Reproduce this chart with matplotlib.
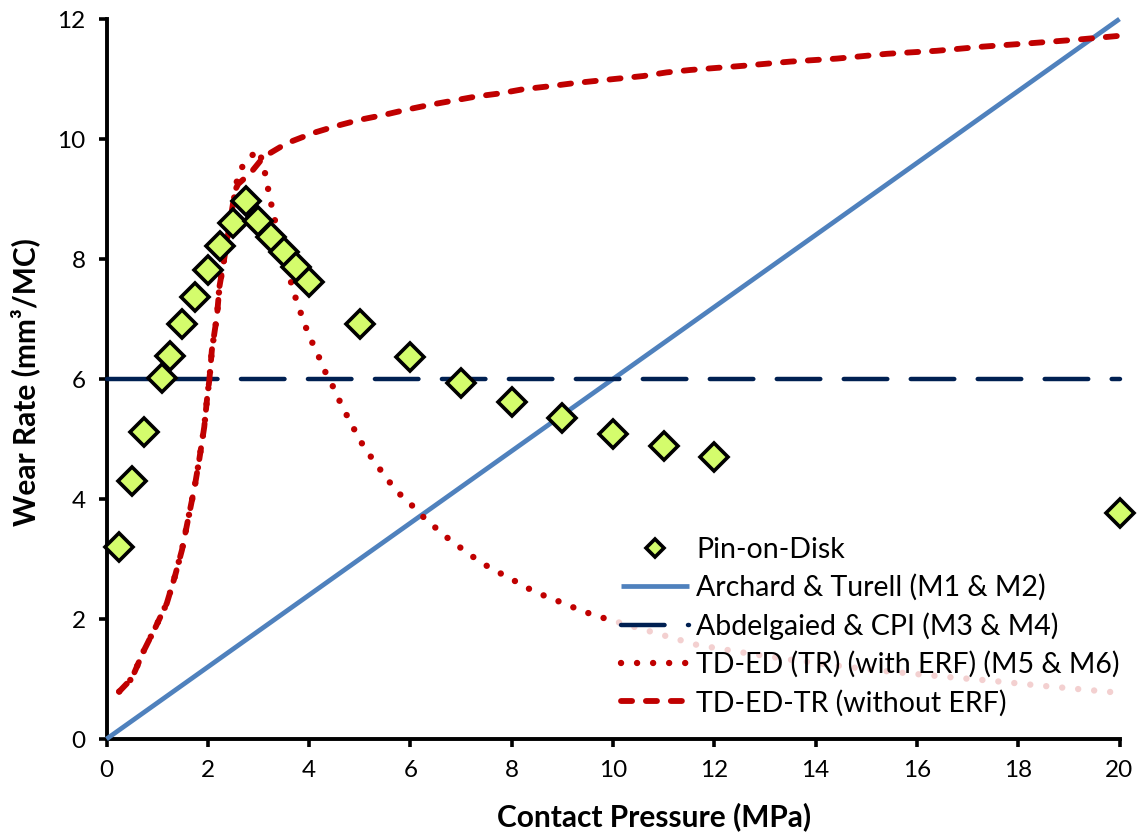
import matplotlib
matplotlib.use("Agg")
import matplotlib.pyplot as plt

plt.rcParams['font.family'] = ['Lato', 'DejaVu Sans']

# Pin-on-Disk measurements
pressure_pod = [0.25, 0.5, 0.75, 1.1, 1.25, 1.5, 1.75, 2.0, 2.25, 2.5, 2.75, 3.0,
                3.25, 3.5, 3.75, 4.0, 5, 6, 7, 8, 9, 10, 11, 12, 20]
wear_pod = [3.2, 4.3, 5.12, 6.02, 6.39, 6.91, 7.37, 7.82, 8.22, 8.6, 8.96, 8.64,
            8.36, 8.11, 7.86, 7.61, 6.91, 6.37, 5.93, 5.62, 5.35, 5.08, 4.88, 4.7, 3.77]

# Archard & Turell model
pressure_archard = [0, 20]
wear_archard = [0, 12]

# Abdelgaied & CPI model
pressure_cpi = [0, 20]
wear_cpi = [6, 6]

# TD-ED (TR) with ERF
pressure_erf = [0.25, 0.5, 0.73, 0.96, 1.19, 1.35, 1.49, 1.62, 1.74, 1.83, 1.93, 1.99,
                2.03, 2.08, 2.14, 2.18, 2.23, 2.31, 2.6, 2.77, 3.0, 3.1, 3.16, 3.23,
                3.29, 3.69, 3.8, 3.9, 4.02, 4.16, 4.28, 4.43, 4.57, 4.71, 4.86, 5.01,
                5.18, 5.37, 5.57, 5.78, 6.0, 6.23, 6.47, 6.72, 6.97, 7.23, 7.5, 7.78,
                8.07, 8.35, 8.64, 8.94, 9.23, 9.54, 9.84, 11.03, 11.65, 12.57, 13.43,
                14.35, 15.27, 16.52, 17.48, 18.43, 19.61, 20]
wear_erf = [0.79, 1.01, 1.46, 1.85, 2.26, 2.71, 3.15, 3.7, 4.2, 4.65, 5.2, 5.71,
            5.98, 6.48, 6.82, 7.04, 7.54, 7.93, 9.43, 9.65, 9.82, 9.57, 9.29, 9.01,
            8.76, 7.46, 7.19, 6.94, 6.68, 6.44, 6.18, 5.95, 5.69, 5.45, 5.21, 4.97,
            4.75, 4.53, 4.3, 4.09, 3.92, 3.72, 3.54, 3.36, 3.2, 3.04, 2.89, 2.76,
            2.63, 2.5, 2.39, 2.29, 2.19, 2.09, 2.01, 1.72, 1.57, 1.44, 1.33,
            1.23, 1.14, 1.04, 0.97, 0.89, 0.80, 0.77]

# TD-ED-TR without ERF
pressure_noerf = [0.25, 0.5, 0.73, 0.96, 1.19, 1.35, 1.49, 1.62, 1.74, 1.83, 1.93, 1.99,
                  2.03, 2.08, 2.14, 2.18, 2.23, 2.31, 2.54, 2.6, 2.84, 3.1, 3.56, 4.08,
                  4.55, 5.0, 5.47, 5.93, 6.39, 6.85, 7.31, 7.77, 8.23, 8.76, 9.22, 9.68,
                  10.14, 10.6, 11.06, 11.52, 12.57, 13.5, 14.42, 15.41, 16.39, 17.31,
                  18.3, 19.22, 20]
wear_noerf = [0.79, 1.01, 1.46, 1.85, 2.26, 2.71, 3.15, 3.7, 4.2, 4.65, 5.2, 5.71,
              5.98, 6.48, 6.82, 7.04, 7.54, 7.93, 9.15, 9.25, 9.43, 9.7, 9.93, 10.1,
              10.22, 10.32, 10.4, 10.49, 10.57, 10.64, 10.71, 10.76, 10.83, 10.88, 10.93,
              10.97, 11.01, 11.05, 11.11, 11.15, 11.22, 11.29, 11.34, 11.42, 11.47, 11.54,
              11.6, 11.66, 11.72]

x_ticks = [0, 2, 4, 6, 8, 10, 12, 14, 16, 18, 20]
y_ticks = [0, 2, 4, 6, 8, 10, 12]

labels = ["Pin-on-Disk", "Archard & Turell (M1 & M2)", "Abdelgaied & CPI (M3 & M4)",
          "TD-ED (TR) (with ERF) (M5 & M6)", "TD-ED-TR (without ERF)"]

RED = '#C00000'
BLUE = '#4F81BD'
NAVY = '#002052'
LIME = '#D4FC6C'

W, H = 1142, 838
fig = plt.figure(figsize=(W / 100, H / 100), dpi=100)
ax = fig.add_axes([106.5 / W, 1 - 739 / H, (1119.5 - 106.5) / W, (739 - 19) / H])

ax.plot(pressure_archard, wear_archard, color=BLUE, lw=3.4, solid_capstyle='butt',
        clip_on=False, zorder=3, label=labels[1])
ax.plot(pressure_cpi, wear_cpi, color=NAVY, lw=3.2, dash_capstyle='round',
        dashes=(9.8, 5.27), clip_on=False, zorder=3, label=labels[2])
ax.plot(pressure_erf, wear_erf, color=RED, lw=4.6, dash_capstyle='round',
        dashes=(0.01, 2.5), clip_on=False, zorder=4, label=labels[3])
ax.plot(pressure_noerf, wear_noerf, color=RED, lw=4.2, dash_capstyle='round',
        dashes=(1.9, 2.37), clip_on=False, zorder=4, label=labels[4])
ax.plot(pressure_pod, wear_pod, linestyle='none', marker='D', markersize=14.5,
        markerfacecolor=LIME, markeredgecolor='black', markeredgewidth=2.6,
        clip_on=False, zorder=6, label=labels[0])

ax.set_xlim(0, 20)
ax.set_ylim(0, 12)
ax.set_xticks(x_ticks)
ax.set_yticks(y_ticks)
ax.tick_params(direction='out', length=6, width=2.6, labelsize=17.5, pad=9, colors='black')
for side in ('top', 'right'):
    ax.spines[side].set_visible(False)
for side in ('left', 'bottom'):
    ax.spines[side].set_linewidth(2.8)
    ax.spines[side].set_color('black')
    ax.spines[side].set_zorder(2)

fig.text(654 / W, 1 - 817 / H, "Contact Pressure (MPa)", fontsize=21.5, fontweight='bold',
         ha='center', va='center')
fig.text(25 / W, 1 - 382 / H, "Wear Rate (mm\u00b3/MC)", fontsize=21.5, fontweight='bold',
         ha='center', va='center', rotation=90)

h = {l.get_label(): l for l in ax.get_lines()}
handles = [h[l] for l in labels]
leg = ax.legend(handles, labels, loc='upper left',
                bbox_to_anchor=(612 / W, 1 - 528 / H), bbox_transform=fig.transFigure,
                fontsize=20.5, frameon=True, framealpha=0.82, facecolor='white',
                edgecolor='none', fancybox=False, handlelength=2.4, handletextpad=0.25,
                labelspacing=0.4, borderpad=0.3, numpoints=1, markerscale=0.62,
                borderaxespad=0)
leg.set_zorder(5)

fig.savefig("out.png", dpi=100)
